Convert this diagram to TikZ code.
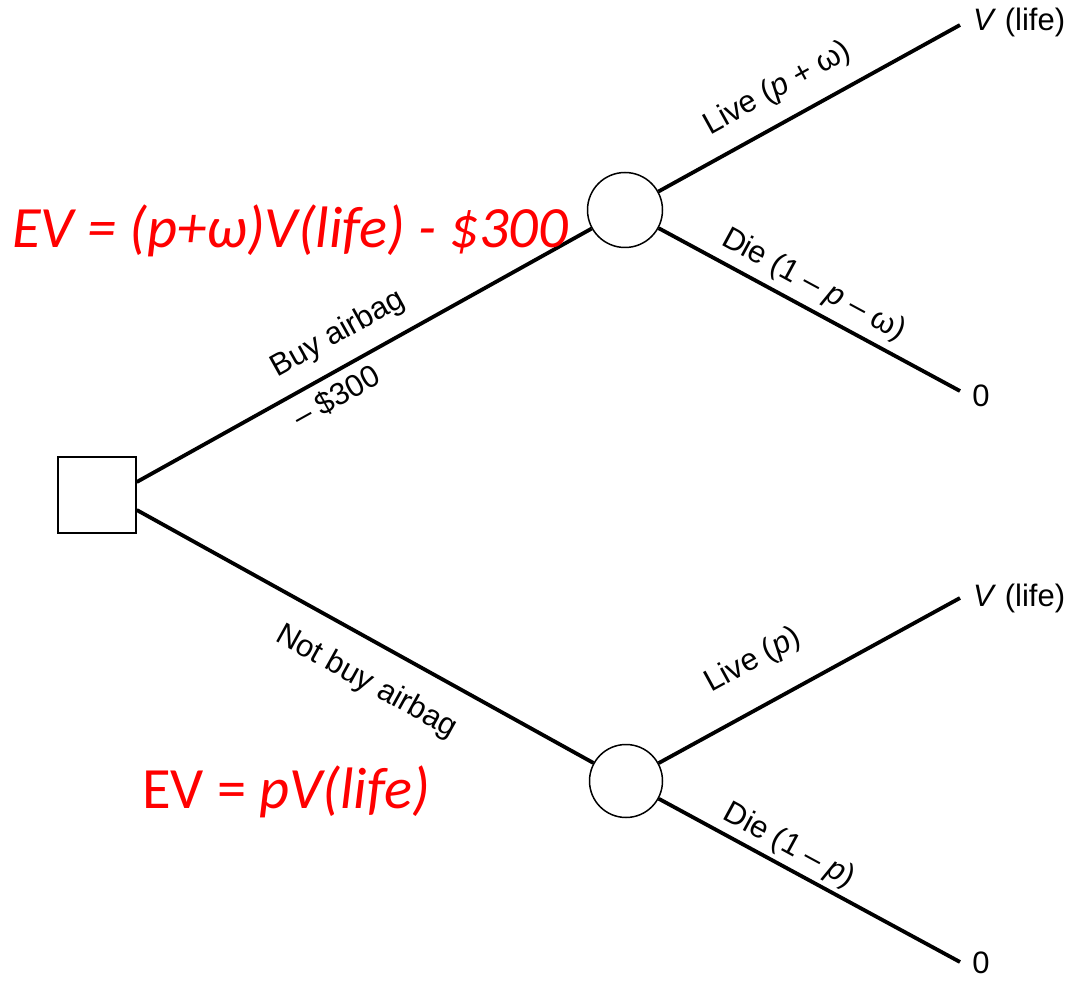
\documentclass[tikz,border=0pt]{standalone}
\usepackage{fontspec}
\setmainfont{Liberation Sans}
\newfontfamily\carlito{Carlito}
\usetikzlibrary{shapes.geometric}
\begin{document}
\begin{tikzpicture}[x=1pt,y=-1pt,
  branch/.style={line width=3.8pt},
  nodeline/.style={draw, line width=1.5pt, inner sep=0pt, fill=white},
  lbl/.style={font=\fontsize{31}{33}\selectfont, sloped, inner sep=0pt},
  endlbl/.style={font=\fontsize{31}{33}\selectfont, inner sep=0pt},
  ev/.style={text=red, font=\carlito\fontsize{58.5}{62}\selectfont, inner sep=0pt, anchor=base west},
]
\useasboundingbox (0,0) rectangle (1069,981);
% nodes
\node[nodeline, minimum width=78pt, minimum height=76pt] (sq) at (97,495) {};
\node[nodeline, circle, minimum size=75pt] (c1) at (625,210) {};
\node[nodeline, circle, minimum size=73pt] (c2) at (626,781) {};
\coordinate (t1) at (960,25);
\coordinate (t2) at (960,391);
\coordinate (b1) at (960,598);
\coordinate (b2) at (960,962);
\coordinate (sqa) at ([yshift=13pt]sq.east);
\coordinate (sqb) at ([yshift=-15pt]sq.east);
% branches
\draw[branch] (sqa) -- (c1)
  node[lbl, pos=0.476, above=15pt] {Buy airbag}
  node[lbl, pos=0.415, below=8pt] {– \$300};
\draw[branch] (sqb) -- (c2)
  node[lbl, pos=0.544, below=23pt] {Not buy airbag};
\draw[branch] (c1) -- (t1)
  node[lbl, pos=0.447, above=16pt] {Live (\textit{p} + ω)};
\draw[branch] (c1) -- (t2)
  node[lbl, pos=0.477, above=7pt] {Die (1 – \textit{p} – ω)};
\draw[branch] (c2) -- (b1)
  node[lbl, pos=0.384, above=28pt] {Live (\textit{p})};
\draw[branch] (c2) -- (b2)
  node[lbl, pos=0.40, above=4pt] {Die (1 – \textit{p})};
% end values
\node[endlbl, anchor=west] (v1) at (973,22) {\textit{V} (life)};
\node[endlbl] (z1) at (981,396) {0};
\node[endlbl, anchor=west] (v2) at (973,598) {\textit{V} (life)};
\node[endlbl] (z2) at (981,963) {0};
% expected values
\node[ev] (ev1) at (12,248) {\itshape EV = (p+ω)V(life) - \$300};
\node[ev] (ev2) at (142,808) {EV = \itshape pV(life)};
\end{tikzpicture}
\end{document}
